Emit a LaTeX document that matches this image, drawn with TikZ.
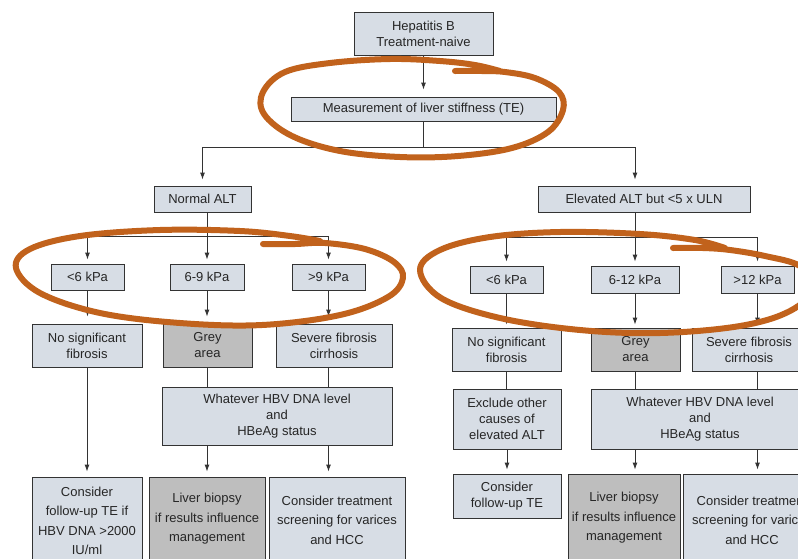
\documentclass[tikz,border=0pt]{standalone}
\usepackage{fontspec}
\setmainfont{Liberation Sans}
\usetikzlibrary{arrows.meta}
\definecolor{boxfill}{HTML}{D7DDE5}
\definecolor{greyfill}{HTML}{BEBEBE}
\definecolor{edge}{HTML}{333333}
\definecolor{marker}{HTML}{C1621C}
\tikzstyle{box}=[draw=edge, fill=boxfill, line width=.9pt, inner sep=0pt, align=center, text=black!85, font=\fontsize{13}{16}\selectfont]
\tikzstyle{grey box}=[box, fill=greyfill]
\tikzstyle{tall}=[font=\fontsize{13}{19.5}\selectfont]
\tikzstyle{link}=[draw=edge, line width=.9pt]
\tikzstyle{pen}=[draw=marker, line width=6pt, line cap=round, line join=round]
\tikzset{dim/.style 2 args={minimum width=#1, minimum height=#2}}

\begin{document}
\begin{tikzpicture}[>={Latex[length=7pt,width=5pt]}, x=1pt, y=-1pt]

    \fill[white] (0,0) rectangle (798,558);
    \useasboundingbox (0,0) rectangle (798,558);
    \clip (0,0) rectangle (798,558);

    % Start
    \draw (423.5,33.5) node[box, dim={139}{43}] (hep) {Hepatitis B\\Treatment-naive};
    \draw (423.5,109) node[box, dim={265}{24}] (meas) {Measurement of liver stiffness (TE)};
    \draw (202.5,199) node[box, dim={97}{26}] (normal) {Normal ALT};
    \draw (644,199) node[box, dim={212}{26}] (elev) {Elevated ALT but <5 x ULN};

    % Normal ALT branch
    \draw (87.5,277) node[box, dim={73}{26}] (la) {<6 kPa};
    \draw (207,277) node[box, dim={74}{26}] (lb) {6-9 kPa};
    \draw (328.5,277) node[box, dim={73}{26}] (lc) {>9 kPa};
    \draw (87,345.5) node[box, dim={110}{43}] (lnsf) {No significant\\fibrosis};
    \draw (207.5,345.5) node[grey box, dim={89}{43}] (lgrey) {Grey\\area};
    \draw (334,345.5) node[box, dim={116}{43}] (lsev) {Severe fibrosis\\cirrhosis};
    \draw (277,416) node[box, dim={230}{58}] (lwhat) {Whatever HBV DNA level\\and\\HBeAg status};
    \draw (87,521) node[box, tall, dim={110}{88}] (lcons) {Consider\\follow-up TE if\\HBV DNA >2000\\IU/ml};
    \draw (207,519) node[grey box, tall, dim={116}{84}] (lbiop) {Liver biopsy\\if results influence\\management};
    \draw (337,520) node[box, tall, dim={136}{86}] (ltreat) {Consider treatment\\screening for varices\\and HCC};

    % Elevated ALT branch
    \draw (506.5,279.5) node[box, dim={73}{27}] (ra) {<6 kPa};
    \draw (635,279.5) node[box, dim={88}{27}] (rb) {6-12 kPa};
    \draw (757.5,279.5) node[box, dim={73}{27}] (rc) {>12 kPa};
    \draw (506.5,349.5) node[box, dim={109}{43}] (rnsf) {No significant\\fibrosis};
    \draw (635.5,349.5) node[grey box, dim={89}{43}] (rgrey) {Grey\\area};
    \draw (749,349.5) node[box, dim={114}{43}] (rsev) {Severe fibrosis\\cirrhosis};
    \draw (507,419) node[box, dim={108}{60}] (rexcl) {Exclude other\\causes of\\elevated ALT};
    \draw (507,496) node[box, dim={108}{44}] (rcons) {Consider\\follow-up TE};
    \draw (700,419) node[box, dim={218}{60}] (rwhat) {Whatever HBV DNA level\\and\\HBeAg status};
    \draw (624,518) node[grey box, tall, dim={112}{88}] (rbiop) {Liver biopsy\\if results influence\\management};
    \draw (752,520) node[box, tall, dim={138}{92}] (rtreat) {Consider treatment\\screening for varices\\and HCC};

    % Links
    \draw[link,->,shorten >=7pt] (hep.south) -- (meas.north);
    \draw[link,->,shorten >=6pt] (meas.south) -- ++(0,26) -| (normal.north);
    \draw[link,->,shorten >=6pt] (meas.south) -- ++(0,26) -| (elev.north -| rb.north);

    \draw[link,->,shorten >=4pt] (normal.south -| lb.north) -- (lb.north);
    \draw[link,->,shorten >=4pt] (normal.south -| lb.north) -- ++(0,24) -| (la.north);
    \draw[link,->,shorten >=4pt] (normal.south -| lb.north) -- ++(0,24) -| (lc.north);
    \draw[link,->,shorten >=7pt] (la.south) -- (la.south |- lnsf.north);
    \draw[link,->,shorten >=7pt] (lb.south) -- (lb.south |- lgrey.north);
    \draw[link,->,shorten >=7pt] (lc.south) -- (lc.south |- lsev.north);
    \draw[link] (lb.south |- lgrey.south) -- (lb.south |- lwhat.north);
    \draw[link] (lc.south |- lsev.south) -- (lc.south |- lwhat.north);
    \draw[link,->,shorten >=5pt] (lnsf.south) -- (lcons.north);
    \draw[link,->,shorten >=5pt] (lb.south |- lwhat.south) -- (lb.south |- lbiop.north);
    \draw[link,->,shorten >=5pt] (lc.south |- lwhat.south) -- (lc.south |- ltreat.north);

    \draw[link,->,shorten >=4pt] (elev.south -| rb.north) -- (rb.north);
    \draw[link,->,shorten >=4pt] (elev.south -| rb.north) -- ++(0,25) -| (ra.north);
    \draw[link,->,shorten >=4pt] (elev.south -| rb.north) -- ++(0,25) -| (rc.north);
    \draw[link,->,shorten >=3pt] (ra.south) -- (ra.south |- rnsf.north);
    \draw[link,->,shorten >=3pt] (rb.south) -- (rb.south |- rgrey.north);
    \draw[link,->,shorten >=3pt] (rc.south) -- (rc.south |- rsev.north);
    \draw[link] (ra.south |- rnsf.south) -- (ra.south |- rexcl.north);
    \draw[link] (rb.south |- rgrey.south) -- (rb.south |- rwhat.north);
    \draw[link] (rc.south |- rsev.south) -- (rc.south |- rwhat.north);
    \draw[link,->,shorten >=4pt] (rexcl.south) -- (rcons.north);
    \draw[link,->,shorten >=4pt] (rb.south |- rwhat.south) -- (rb.south |- rbiop.north);
    \draw[link,->,shorten >=4pt] (rc.south |- rwhat.south) -- (rc.south |- rtreat.north);

    % Marker loops
    \draw[pen] plot[smooth, tension=.6] coordinates {(455,71) (482,71) (505,72) (535,78)
      (559,92) (563,110) (548,132) (512,148) (458,156) (400,157) (340,151) (292,136)
      (264,114) (263,92) (285,72) (330,63) (390,59) (440,61) (475,65) (500,71)};
    \draw[pen] plot[smooth, tension=.6] coordinates {(263,244) (295,244) (325,243) (365,249)
      (394,262) (403,278) (388,297) (340,315) (262,325) (180,323) (100,313) (40,293)
      (16,268) (30,249) (80,236) (160,230) (240,231) (290,236) (320,241)};
    \draw[pen] plot[smooth, tension=.6] coordinates {(673,248) (703,248) (730,250) (765,256)
      (800,266) (815,287) (790,311) (740,326) (660,333) (580,330) (500,318) (441,298)
      (420,270) (440,250) (490,237) (560,232) (640,234) (695,240) (725,248)};

\end{tikzpicture}
\end{document}
